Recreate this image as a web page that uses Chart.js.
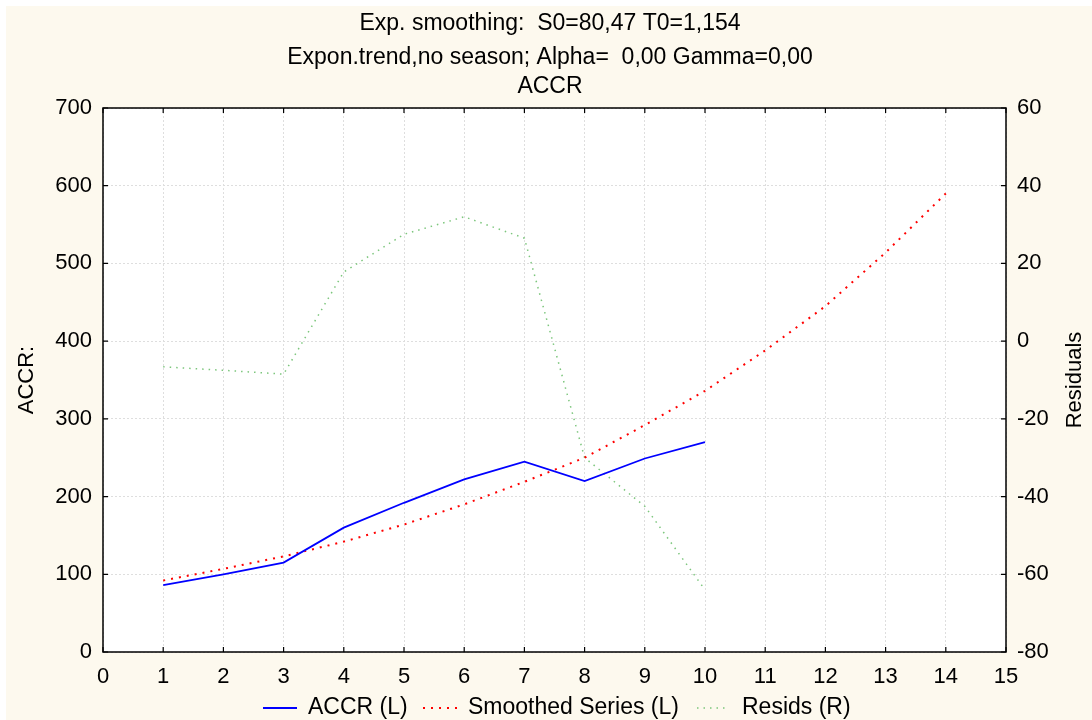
<!DOCTYPE html>
<html>
<head>
<meta charset="utf-8">
<script src="https://cdn.jsdelivr.net/npm/chart.js@4.4.1/dist/chart.umd.min.js"></script>
<style>
  html, body { margin: 0; padding: 0; background: #fff; }
  #wrap { width: 1092px; height: 720px; }
</style>
</head>
<body>
<div id="wrap"><canvas id="chart" width="1092" height="720"></canvas></div>
<script>
// observed series
const periods = [1, 2, 3, 4, 5, 6, 7, 8, 9, 10];
const accr = [86, 100, 115, 160, 192, 222, 245, 220, 249, 270];

// smoothed series runs four periods past the data
const smoothPeriods = [1, 2, 3, 4, 5, 6, 7, 8, 9, 10, 11, 12, 13, 14];
const smoothed = [92, 107, 123, 142, 164, 190, 219, 250, 292, 336, 388, 445, 514, 590];

// residuals, right axis
const resids = [-6.6, -7.5, -8.5, 17.8, 27.5, 32.0, 26.5, -30, -42.5, -64];

const titleLines = [
  "Exp. smoothing:  S0=80,47 T0=1,154",
  "Expon.trend,no season; Alpha=  0,00 Gamma=0,00",
  "ACCR"
];
const legendLabels = ["ACCR (L)", "Smoothed Series (L)", "Resids (R)"];
const leftAxisTitle = "ACCR:";
const rightAxisTitle = "Residuals";

const FONT = "'Liberation Sans', Arial, sans-serif";
const cream = "#fdf9ee";

const pts = (xs, ys) => xs.map((x, i) => ({ x, y: ys[i] }));

// backdrop, frame, inner tick marks, titles and legend
const decor = {
  id: "decor",
  beforeDraw(chart) {
    const { ctx, chartArea: a } = chart;
    ctx.save();
    ctx.fillStyle = "#fff";
    ctx.fillRect(0, 0, chart.width, chart.height);
    ctx.fillStyle = cream;
    ctx.fillRect(6, 6, chart.width - 6, chart.height - 6);
    ctx.fillStyle = "#fff";
    ctx.fillRect(a.left, a.top, a.right - a.left, a.bottom - a.top);
    ctx.restore();
  },
  afterDraw(chart) {
    const { ctx, chartArea: a, scales } = chart;
    ctx.save();
    ctx.strokeStyle = "#000";
    ctx.lineWidth = 1.5;
    ctx.strokeRect(a.left, a.top, a.right - a.left, a.bottom - a.top);

    // short ticks pointing into the plot
    ctx.lineWidth = 1.2;
    ctx.beginPath();
    scales.x.ticks.forEach(t => {
      const px = scales.x.getPixelForValue(t.value);
      ctx.moveTo(px, a.bottom); ctx.lineTo(px, a.bottom - 5);
      ctx.moveTo(px, a.top); ctx.lineTo(px, a.top + 5);
    });
    scales.y.ticks.forEach(t => {
      const py = scales.y.getPixelForValue(t.value);
      ctx.moveTo(a.left, py); ctx.lineTo(a.left + 5, py);
    });
    scales.y1.ticks.forEach(t => {
      const py = scales.y1.getPixelForValue(t.value);
      ctx.moveTo(a.right, py); ctx.lineTo(a.right - 5, py);
    });
    ctx.stroke();

    ctx.fillStyle = "#000";
    ctx.font = "23px " + FONT;
    ctx.textAlign = "center";
    ctx.textBaseline = "middle";
    const ty = [24, 58, 87];
    titleLines.forEach((s, i) => ctx.fillText(s, 550, ty[i]));

    // axis titles, both read bottom to top
    ctx.font = "22px " + FONT;
    [[leftAxisTitle, 27], [rightAxisTitle, 1075]].forEach(([s, x]) => {
      ctx.save();
      ctx.translate(x, (a.top + a.bottom) / 2);
      ctx.rotate(-Math.PI / 2);
      ctx.fillText(s, 0, 0);
      ctx.restore();
    });

    // legend
    ctx.font = "23px " + FONT;
    const ly = 708;
    const samples = [
      { x0: 263, x1: 297, tx: 308, ds: chart.data.datasets[0] },
      { x0: 423, x1: 458, tx: 468, ds: chart.data.datasets[1] },
      { x0: 697, x1: 729, tx: 742, ds: chart.data.datasets[2] }
    ];
    ctx.textAlign = "left";
    samples.forEach((s, i) => {
      ctx.save();
      ctx.strokeStyle = s.ds.borderColor;
      ctx.lineWidth = s.ds.borderWidth;
      ctx.setLineDash(s.ds.borderDash || []);
      ctx.beginPath();
      ctx.moveTo(s.x0, ly); ctx.lineTo(s.x1, ly);
      ctx.stroke();
      ctx.restore();
      ctx.fillText(legendLabels[i], s.tx, ly);
    });
    ctx.restore();
  }
};

const gridCommon = { color: "#dedede", lineWidth: 1, drawTicks: false };
const tickFont = { family: FONT, size: 22 };

new Chart(document.getElementById("chart"), {
  type: "line",
  data: {
    datasets: [
      {
        label: legendLabels[0],
        data: pts(periods, accr),
        yAxisID: "y",
        borderColor: "#0000ff",
        borderWidth: 1.8,
        pointRadius: 0,
        tension: 0
      },
      {
        label: legendLabels[1],
        data: pts(smoothPeriods, smoothed),
        yAxisID: "y",
        borderColor: "#ff0000",
        borderWidth: 2,
        borderDash: [2, 6],
        pointRadius: 0,
        tension: 0
      },
      {
        label: legendLabels[2],
        data: pts(periods, resids),
        yAxisID: "y1",
        borderColor: "#7cc67c",
        borderWidth: 1.5,
        borderDash: [1.5, 5],
        pointRadius: 0,
        tension: 0
      }
    ]
  },
  options: {
    responsive: false,
    devicePixelRatio: 1,
    animation: false,
    layout: { padding: { top: 108, bottom: 28, left: 0, right: 0 } },
    plugins: { legend: { display: false }, title: { display: false }, tooltip: { enabled: false } },
    scales: {
      x: {
        type: "linear",
        min: 0, max: 15,
        afterFit: s => { s.height = 40; },
        ticks: { stepSize: 1, color: "#000", font: tickFont, padding: 12, maxRotation: 0 },
        grid: gridCommon,
        border: { display: false, dash: [2, 2] }
      },
      y: {
        position: "left",
        min: 0, max: 700,
        afterFit: s => { s.width = 103; },
        ticks: { stepSize: 100, color: "#000", font: tickFont, padding: 11 },
        grid: gridCommon,
        border: { display: false, dash: [2, 2] }
      },
      y1: {
        position: "right",
        min: -80, max: 60,
        afterFit: s => { s.width = 86; },
        ticks: { stepSize: 20, color: "#000", font: tickFont, padding: 11 },
        grid: { drawOnChartArea: false, drawTicks: false },
        border: { display: false }
      }
    }
  },
  plugins: [decor]
});
</script>
</body>
</html>
